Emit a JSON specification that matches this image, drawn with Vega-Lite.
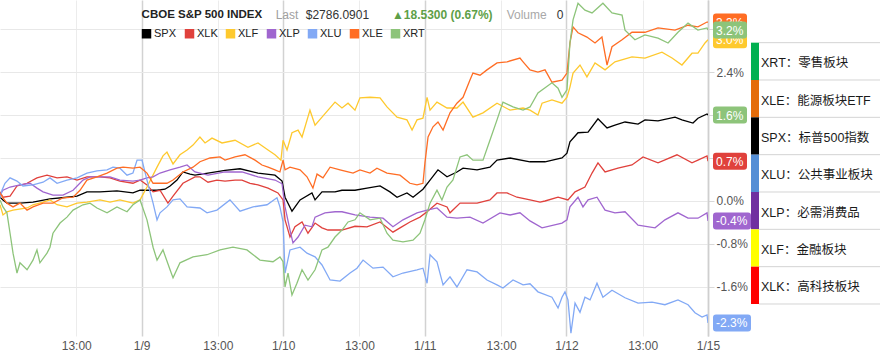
{
"$schema": "https://vega.github.io/schema/vega-lite/v6.json",
"padding": 0,
"background": "white",
"spacing": 0,
"config": {"view": {"stroke": null}, "font": "Liberation Sans", "axis": {"labelFont": "Liberation Sans"}},
"resolve": {"scale": {"fill": "independent"}},
"datasets": {
"series": [
{"s":"SPX","t":0,"v":0.07},{"s":"SPX","t":0.021,"v":0.02},{"s":"SPX","t":0.049,"v":-0.04},{"s":"SPX","t":0.141,"v":-0.04},{"s":"SPX","t":0.233,"v":-0.02},{"s":"SPX","t":0.353,"v":0.04},{"s":"SPX","t":0.473,"v":0.07},{"s":"SPX","t":0.544,"v":0.09},{"s":"SPX","t":0.614,"v":0.17},{"s":"SPX","t":0.706,"v":0.17},{"s":"SPX","t":0.826,"v":0.19},{"s":"SPX","t":0.939,"v":0.15},{"s":"SPX","t":0.989,"v":0.2},{"s":"SPX","t":1.109,"v":0.2},{"s":"SPX","t":1.165,"v":0.22},{"s":"SPX","t":1.201,"v":0.28},{"s":"SPX","t":1.25,"v":0.39},{"s":"SPX","t":1.292,"v":0.54},{"s":"SPX","t":1.342,"v":0.5},{"s":"SPX","t":1.377,"v":0.48},{"s":"SPX","t":1.469,"v":0.52},{"s":"SPX","t":1.589,"v":0.57},{"s":"SPX","t":1.695,"v":0.6},{"s":"SPX","t":1.822,"v":0.52},{"s":"SPX","t":1.942,"v":0.48},{"s":"SPX","t":1.992,"v":0.37},{"s":"SPX","t":2.013,"v":0.07},{"s":"SPX","t":2.062,"v":-0.19},{"s":"SPX","t":2.119,"v":0.02},{"s":"SPX","t":2.203,"v":0.15},{"s":"SPX","t":2.225,"v":0.02},{"s":"SPX","t":2.274,"v":0.17},{"s":"SPX","t":2.366,"v":0.17},{"s":"SPX","t":2.415,"v":0.2},{"s":"SPX","t":2.507,"v":0.2},{"s":"SPX","t":2.592,"v":0.24},{"s":"SPX","t":2.684,"v":0.28},{"s":"SPX","t":2.754,"v":0.17},{"s":"SPX","t":2.804,"v":0.07},{"s":"SPX","t":2.874,"v":0.15},{"s":"SPX","t":2.917,"v":0.07},{"s":"SPX","t":2.987,"v":0.22},{"s":"SPX","t":3.037,"v":0.39},{"s":"SPX","t":3.093,"v":0.58},{"s":"SPX","t":3.157,"v":0.45},{"s":"SPX","t":3.227,"v":0.54},{"s":"SPX","t":3.27,"v":0.61},{"s":"SPX","t":3.369,"v":0.58},{"s":"SPX","t":3.46,"v":0.63},{"s":"SPX","t":3.51,"v":0.76},{"s":"SPX","t":3.602,"v":0.8},{"s":"SPX","t":3.743,"v":0.73},{"s":"SPX","t":3.849,"v":0.73},{"s":"SPX","t":3.969,"v":0.8},{"s":"SPX","t":4.004,"v":0.89},{"s":"SPX","t":4.025,"v":1.1},{"s":"SPX","t":4.082,"v":1.27},{"s":"SPX","t":4.153,"v":1.28},{"s":"SPX","t":4.223,"v":1.53},{"s":"SPX","t":4.287,"v":1.36},{"s":"SPX","t":4.343,"v":1.41},{"s":"SPX","t":4.414,"v":1.47},{"s":"SPX","t":4.506,"v":1.43},{"s":"SPX","t":4.555,"v":1.51},{"s":"SPX","t":4.647,"v":1.49},{"s":"SPX","t":4.767,"v":1.56},{"s":"SPX","t":4.816,"v":1.51},{"s":"SPX","t":4.894,"v":1.45},{"s":"SPX","t":4.929,"v":1.54},{"s":"SPX","t":4.993,"v":1.62},{"s":"SPX","t":5,"v":1.6},
{"s":"XLK","t":0,"v":0.17},{"s":"XLK","t":0.021,"v":0.07},{"s":"XLK","t":0.071,"v":0.09},{"s":"XLK","t":0.12,"v":0.28},{"s":"XLK","t":0.191,"v":0.33},{"s":"XLK","t":0.261,"v":0.43},{"s":"XLK","t":0.332,"v":0.48},{"s":"XLK","t":0.403,"v":0.43},{"s":"XLK","t":0.473,"v":0.45},{"s":"XLK","t":0.544,"v":0.39},{"s":"XLK","t":0.614,"v":0.45},{"s":"XLK","t":0.706,"v":0.45},{"s":"XLK","t":0.777,"v":0.43},{"s":"XLK","t":0.847,"v":0.37},{"s":"XLK","t":0.939,"v":0.33},{"s":"XLK","t":0.989,"v":0.39},{"s":"XLK","t":1.038,"v":0.3},{"s":"XLK","t":1.081,"v":0.17},{"s":"XLK","t":1.13,"v":0.2},{"s":"XLK","t":1.186,"v":-0.04},{"s":"XLK","t":1.222,"v":0.09},{"s":"XLK","t":1.292,"v":0.33},{"s":"XLK","t":1.377,"v":0.45},{"s":"XLK","t":1.412,"v":0.45},{"s":"XLK","t":1.469,"v":0.35},{"s":"XLK","t":1.532,"v":0.39},{"s":"XLK","t":1.589,"v":0.37},{"s":"XLK","t":1.66,"v":0.39},{"s":"XLK","t":1.709,"v":0.39},{"s":"XLK","t":1.766,"v":0.33},{"s":"XLK","t":1.822,"v":0.3},{"s":"XLK","t":1.893,"v":0.24},{"s":"XLK","t":1.963,"v":0.15},{"s":"XLK","t":1.999,"v":0.02},{"s":"XLK","t":2.013,"v":-0.35},{"s":"XLK","t":2.048,"v":-0.67},{"s":"XLK","t":2.083,"v":-0.48},{"s":"XLK","t":2.133,"v":-0.39},{"s":"XLK","t":2.175,"v":-0.6},{"s":"XLK","t":2.225,"v":-0.41},{"s":"XLK","t":2.274,"v":-0.5},{"s":"XLK","t":2.316,"v":-0.54},{"s":"XLK","t":2.415,"v":-0.54},{"s":"XLK","t":2.507,"v":-0.47},{"s":"XLK","t":2.592,"v":-0.48},{"s":"XLK","t":2.684,"v":-0.39},{"s":"XLK","t":2.775,"v":-0.58},{"s":"XLK","t":2.825,"v":-0.5},{"s":"XLK","t":2.895,"v":-0.39},{"s":"XLK","t":2.966,"v":-0.3},{"s":"XLK","t":3.016,"v":-0.2},{"s":"XLK","t":3.086,"v":-0.04},{"s":"XLK","t":3.157,"v":-0.11},{"s":"XLK","t":3.178,"v":-0.22},{"s":"XLK","t":3.249,"v":-0.04},{"s":"XLK","t":3.369,"v":-0.04},{"s":"XLK","t":3.46,"v":0.02},{"s":"XLK","t":3.51,"v":0.15},{"s":"XLK","t":3.581,"v":0.15},{"s":"XLK","t":3.651,"v":0.07},{"s":"XLK","t":3.743,"v":0.02},{"s":"XLK","t":3.814,"v":-0.02},{"s":"XLK","t":3.849,"v":0},{"s":"XLK","t":3.941,"v":0.07},{"s":"XLK","t":4.011,"v":0.02},{"s":"XLK","t":4.061,"v":0.17},{"s":"XLK","t":4.131,"v":0.26},{"s":"XLK","t":4.181,"v":0.52},{"s":"XLK","t":4.223,"v":0.71},{"s":"XLK","t":4.273,"v":0.54},{"s":"XLK","t":4.364,"v":0.61},{"s":"XLK","t":4.463,"v":0.67},{"s":"XLK","t":4.541,"v":0.82},{"s":"XLK","t":4.647,"v":0.71},{"s":"XLK","t":4.781,"v":0.86},{"s":"XLK","t":4.887,"v":0.71},{"s":"XLK","t":4.929,"v":0.76},{"s":"XLK","t":4.993,"v":0.84},{"s":"XLK","t":5,"v":0.74},
{"s":"XLF","t":0,"v":-0.07},{"s":"XLF","t":0.021,"v":-0.26},{"s":"XLF","t":0.049,"v":-0.2},{"s":"XLF","t":0.092,"v":-0.17},{"s":"XLF","t":0.191,"v":-0.13},{"s":"XLF","t":0.233,"v":-0.07},{"s":"XLF","t":0.304,"v":-0.02},{"s":"XLF","t":0.353,"v":0.02},{"s":"XLF","t":0.403,"v":-0.07},{"s":"XLF","t":0.473,"v":-0.11},{"s":"XLF","t":0.544,"v":-0.04},{"s":"XLF","t":0.614,"v":-0.02},{"s":"XLF","t":0.706,"v":0.02},{"s":"XLF","t":0.777,"v":-0.02},{"s":"XLF","t":0.847,"v":0.02},{"s":"XLF","t":0.939,"v":-0.04},{"s":"XLF","t":0.989,"v":0.02},{"s":"XLF","t":1.038,"v":0.26},{"s":"XLF","t":1.109,"v":0.63},{"s":"XLF","t":1.151,"v":0.84},{"s":"XLF","t":1.179,"v":0.91},{"s":"XLF","t":1.222,"v":0.69},{"s":"XLF","t":1.271,"v":0.86},{"s":"XLF","t":1.321,"v":0.95},{"s":"XLF","t":1.363,"v":1.04},{"s":"XLF","t":1.412,"v":1.19},{"s":"XLF","t":1.448,"v":1.08},{"s":"XLF","t":1.497,"v":1.17},{"s":"XLF","t":1.568,"v":1.08},{"s":"XLF","t":1.66,"v":1.13},{"s":"XLF","t":1.751,"v":1.0},{"s":"XLF","t":1.822,"v":1.08},{"s":"XLF","t":1.893,"v":0.95},{"s":"XLF","t":1.942,"v":0.86},{"s":"XLF","t":1.984,"v":0.76},{"s":"XLF","t":1.999,"v":1.13},{"s":"XLF","t":2.027,"v":0.95},{"s":"XLF","t":2.062,"v":1.27},{"s":"XLF","t":2.105,"v":1.32},{"s":"XLF","t":2.133,"v":1.19},{"s":"XLF","t":2.189,"v":1.69},{"s":"XLF","t":2.225,"v":1.41},{"s":"XLF","t":2.274,"v":1.56},{"s":"XLF","t":2.366,"v":1.84},{"s":"XLF","t":2.415,"v":1.73},{"s":"XLF","t":2.458,"v":1.82},{"s":"XLF","t":2.507,"v":1.69},{"s":"XLF","t":2.542,"v":1.92},{"s":"XLF","t":2.613,"v":1.93},{"s":"XLF","t":2.684,"v":1.92},{"s":"XLF","t":2.733,"v":1.75},{"s":"XLF","t":2.804,"v":1.56},{"s":"XLF","t":2.874,"v":1.51},{"s":"XLF","t":2.91,"v":1.32},{"s":"XLF","t":2.945,"v":1.51},{"s":"XLF","t":2.987,"v":1.54},{"s":"XLF","t":3.016,"v":1.93},{"s":"XLF","t":3.037,"v":1.69},{"s":"XLF","t":3.086,"v":1.84},{"s":"XLF","t":3.157,"v":1.73},{"s":"XLF","t":3.227,"v":1.73},{"s":"XLF","t":3.27,"v":1.84},{"s":"XLF","t":3.34,"v":1.56},{"s":"XLF","t":3.411,"v":1.64},{"s":"XLF","t":3.51,"v":1.82},{"s":"XLF","t":3.602,"v":1.69},{"s":"XLF","t":3.694,"v":1.73},{"s":"XLF","t":3.743,"v":1.69},{"s":"XLF","t":3.799,"v":1.6},{"s":"XLF","t":3.828,"v":1.82},{"s":"XLF","t":3.898,"v":1.88},{"s":"XLF","t":3.969,"v":1.82},{"s":"XLF","t":4.004,"v":1.93},{"s":"XLF","t":4.025,"v":2.12},{"s":"XLF","t":4.047,"v":2.38},{"s":"XLF","t":4.096,"v":2.53},{"s":"XLF","t":4.145,"v":2.31},{"s":"XLF","t":4.202,"v":2.57},{"s":"XLF","t":4.273,"v":2.44},{"s":"XLF","t":4.343,"v":2.59},{"s":"XLF","t":4.463,"v":2.68},{"s":"XLF","t":4.555,"v":2.66},{"s":"XLF","t":4.675,"v":2.77},{"s":"XLF","t":4.746,"v":2.66},{"s":"XLF","t":4.816,"v":2.53},{"s":"XLF","t":4.887,"v":2.75},{"s":"XLF","t":4.929,"v":2.75},{"s":"XLF","t":4.979,"v":2.94},{"s":"XLF","t":5,"v":3.0},
{"s":"XLP","t":0,"v":0.11},{"s":"XLP","t":0.021,"v":0.2},{"s":"XLP","t":0.071,"v":0.26},{"s":"XLP","t":0.141,"v":0.3},{"s":"XLP","t":0.212,"v":0.33},{"s":"XLP","t":0.261,"v":0.24},{"s":"XLP","t":0.304,"v":0.17},{"s":"XLP","t":0.374,"v":0.11},{"s":"XLP","t":0.445,"v":0.11},{"s":"XLP","t":0.516,"v":0.2},{"s":"XLP","t":0.586,"v":0.39},{"s":"XLP","t":0.636,"v":0.45},{"s":"XLP","t":0.706,"v":0.45},{"s":"XLP","t":0.777,"v":0.45},{"s":"XLP","t":0.847,"v":0.39},{"s":"XLP","t":0.939,"v":0.37},{"s":"XLP","t":0.989,"v":0.39},{"s":"XLP","t":1.038,"v":0.43},{"s":"XLP","t":1.081,"v":0.45},{"s":"XLP","t":1.13,"v":0.52},{"s":"XLP","t":1.201,"v":0.58},{"s":"XLP","t":1.271,"v":0.63},{"s":"XLP","t":1.321,"v":0.67},{"s":"XLP","t":1.377,"v":0.54},{"s":"XLP","t":1.469,"v":0.48},{"s":"XLP","t":1.589,"v":0.54},{"s":"XLP","t":1.709,"v":0.54},{"s":"XLP","t":1.822,"v":0.45},{"s":"XLP","t":1.942,"v":0.39},{"s":"XLP","t":1.992,"v":0.32},{"s":"XLP","t":2.013,"v":-0.11},{"s":"XLP","t":2.048,"v":-0.54},{"s":"XLP","t":2.069,"v":-0.78},{"s":"XLP","t":2.105,"v":-0.67},{"s":"XLP","t":2.154,"v":-0.45},{"s":"XLP","t":2.203,"v":-0.48},{"s":"XLP","t":2.225,"v":-0.3},{"s":"XLP","t":2.295,"v":-0.22},{"s":"XLP","t":2.366,"v":-0.2},{"s":"XLP","t":2.415,"v":-0.2},{"s":"XLP","t":2.507,"v":-0.26},{"s":"XLP","t":2.613,"v":-0.3},{"s":"XLP","t":2.705,"v":-0.32},{"s":"XLP","t":2.775,"v":-0.48},{"s":"XLP","t":2.846,"v":-0.35},{"s":"XLP","t":2.945,"v":-0.22},{"s":"XLP","t":3.016,"v":-0.17},{"s":"XLP","t":3.086,"v":-0.13},{"s":"XLP","t":3.157,"v":-0.3},{"s":"XLP","t":3.227,"v":-0.32},{"s":"XLP","t":3.319,"v":-0.3},{"s":"XLP","t":3.411,"v":-0.41},{"s":"XLP","t":3.531,"v":-0.22},{"s":"XLP","t":3.602,"v":-0.26},{"s":"XLP","t":3.672,"v":-0.22},{"s":"XLP","t":3.743,"v":-0.37},{"s":"XLP","t":3.828,"v":-0.5},{"s":"XLP","t":3.969,"v":-0.41},{"s":"XLP","t":4.004,"v":-0.35},{"s":"XLP","t":4.025,"v":-0.11},{"s":"XLP","t":4.082,"v":0.07},{"s":"XLP","t":4.117,"v":-0.11},{"s":"XLP","t":4.153,"v":0.02},{"s":"XLP","t":4.216,"v":0.07},{"s":"XLP","t":4.273,"v":-0.17},{"s":"XLP","t":4.343,"v":-0.22},{"s":"XLP","t":4.414,"v":-0.2},{"s":"XLP","t":4.506,"v":-0.45},{"s":"XLP","t":4.626,"v":-0.5},{"s":"XLP","t":4.696,"v":-0.35},{"s":"XLP","t":4.788,"v":-0.22},{"s":"XLP","t":4.859,"v":-0.32},{"s":"XLP","t":4.929,"v":-0.32},{"s":"XLP","t":4.993,"v":-0.22},{"s":"XLP","t":5,"v":-0.37},
{"s":"XLU","t":0,"v":0.06},{"s":"XLU","t":0.014,"v":0.2},{"s":"XLU","t":0.035,"v":0.33},{"s":"XLU","t":0.071,"v":0.43},{"s":"XLU","t":0.12,"v":0.37},{"s":"XLU","t":0.162,"v":0.28},{"s":"XLU","t":0.233,"v":0.3},{"s":"XLU","t":0.304,"v":0.35},{"s":"XLU","t":0.353,"v":0.43},{"s":"XLU","t":0.403,"v":0.33},{"s":"XLU","t":0.473,"v":0.39},{"s":"XLU","t":0.544,"v":0.43},{"s":"XLU","t":0.614,"v":0.52},{"s":"XLU","t":0.685,"v":0.56},{"s":"XLU","t":0.756,"v":0.58},{"s":"XLU","t":0.798,"v":0.63},{"s":"XLU","t":0.847,"v":0.61},{"s":"XLU","t":0.897,"v":0.48},{"s":"XLU","t":0.939,"v":0.52},{"s":"XLU","t":0.968,"v":0.76},{"s":"XLU","t":1.003,"v":0.76},{"s":"XLU","t":1.038,"v":0.39},{"s":"XLU","t":1.081,"v":-0.04},{"s":"XLU","t":1.109,"v":-0.35},{"s":"XLU","t":1.13,"v":-0.22},{"s":"XLU","t":1.179,"v":-0.11},{"s":"XLU","t":1.222,"v":0.02},{"s":"XLU","t":1.271,"v":0.04},{"s":"XLU","t":1.321,"v":-0.11},{"s":"XLU","t":1.412,"v":-0.13},{"s":"XLU","t":1.462,"v":-0.22},{"s":"XLU","t":1.532,"v":-0.17},{"s":"XLU","t":1.624,"v":0.02},{"s":"XLU","t":1.695,"v":-0.19},{"s":"XLU","t":1.787,"v":-0.11},{"s":"XLU","t":1.886,"v":-0.07},{"s":"XLU","t":1.956,"v":0.06},{"s":"XLU","t":1.977,"v":-0.11},{"s":"XLU","t":1.999,"v":-0.39},{"s":"XLU","t":2.013,"v":-1.34},{"s":"XLU","t":2.048,"v":-0.91},{"s":"XLU","t":2.119,"v":-0.86},{"s":"XLU","t":2.168,"v":-0.97},{"s":"XLU","t":2.225,"v":-1.04},{"s":"XLU","t":2.274,"v":-1.19},{"s":"XLU","t":2.331,"v":-1.47},{"s":"XLU","t":2.401,"v":-1.49},{"s":"XLU","t":2.472,"v":-1.34},{"s":"XLU","t":2.521,"v":-1.25},{"s":"XLU","t":2.564,"v":-1.1},{"s":"XLU","t":2.634,"v":-1.25},{"s":"XLU","t":2.705,"v":-1.23},{"s":"XLU","t":2.775,"v":-1.41},{"s":"XLU","t":2.846,"v":-1.34},{"s":"XLU","t":2.945,"v":-1.28},{"s":"XLU","t":2.987,"v":-1.25},{"s":"XLU","t":3.016,"v":-1.53},{"s":"XLU","t":3.037,"v":-1.0},{"s":"XLU","t":3.086,"v":-1.13},{"s":"XLU","t":3.129,"v":-1.56},{"s":"XLU","t":3.178,"v":-1.41},{"s":"XLU","t":3.227,"v":-1.6},{"s":"XLU","t":3.298,"v":-1.28},{"s":"XLU","t":3.369,"v":-1.32},{"s":"XLU","t":3.439,"v":-1.47},{"s":"XLU","t":3.51,"v":-1.56},{"s":"XLU","t":3.552,"v":-1.62},{"s":"XLU","t":3.623,"v":-1.47},{"s":"XLU","t":3.694,"v":-1.56},{"s":"XLU","t":3.743,"v":-1.54},{"s":"XLU","t":3.799,"v":-1.69},{"s":"XLU","t":3.898,"v":-1.79},{"s":"XLU","t":3.941,"v":-1.99},{"s":"XLU","t":3.969,"v":-1.79},{"s":"XLU","t":3.99,"v":-1.69},{"s":"XLU","t":4.011,"v":-1.84},{"s":"XLU","t":4.032,"v":-2.46},{"s":"XLU","t":4.061,"v":-1.9},{"s":"XLU","t":4.096,"v":-2.07},{"s":"XLU","t":4.131,"v":-1.79},{"s":"XLU","t":4.167,"v":-1.84},{"s":"XLU","t":4.216,"v":-1.53},{"s":"XLU","t":4.258,"v":-1.79},{"s":"XLU","t":4.322,"v":-1.66},{"s":"XLU","t":4.414,"v":-1.8},{"s":"XLU","t":4.506,"v":-1.9},{"s":"XLU","t":4.605,"v":-1.88},{"s":"XLU","t":4.696,"v":-1.93},{"s":"XLU","t":4.788,"v":-1.84},{"s":"XLU","t":4.859,"v":-1.93},{"s":"XLU","t":4.908,"v":-2.08},{"s":"XLU","t":4.958,"v":-2.16},{"s":"XLU","t":4.993,"v":-2.12},{"s":"XLU","t":5,"v":-2.27},
{"s":"XLE","t":0,"v":0.15},{"s":"XLE","t":0.021,"v":0.06},{"s":"XLE","t":0.049,"v":-0.04},{"s":"XLE","t":0.092,"v":-0.11},{"s":"XLE","t":0.141,"v":-0.04},{"s":"XLE","t":0.191,"v":-0.17},{"s":"XLE","t":0.233,"v":-0.11},{"s":"XLE","t":0.304,"v":-0.04},{"s":"XLE","t":0.374,"v":-0.04},{"s":"XLE","t":0.445,"v":0.06},{"s":"XLE","t":0.516,"v":0.07},{"s":"XLE","t":0.565,"v":0.2},{"s":"XLE","t":0.614,"v":0.39},{"s":"XLE","t":0.685,"v":0.45},{"s":"XLE","t":0.756,"v":0.52},{"s":"XLE","t":0.826,"v":0.61},{"s":"XLE","t":0.869,"v":0.63},{"s":"XLE","t":0.939,"v":0.61},{"s":"XLE","t":0.989,"v":0.63},{"s":"XLE","t":1.038,"v":0.52},{"s":"XLE","t":1.081,"v":0.33},{"s":"XLE","t":1.13,"v":0.33},{"s":"XLE","t":1.179,"v":0.33},{"s":"XLE","t":1.222,"v":0.39},{"s":"XLE","t":1.292,"v":0.54},{"s":"XLE","t":1.363,"v":0.63},{"s":"XLE","t":1.412,"v":0.73},{"s":"XLE","t":1.483,"v":0.8},{"s":"XLE","t":1.554,"v":0.82},{"s":"XLE","t":1.589,"v":0.76},{"s":"XLE","t":1.66,"v":0.82},{"s":"XLE","t":1.73,"v":0.86},{"s":"XLE","t":1.801,"v":0.76},{"s":"XLE","t":1.85,"v":0.67},{"s":"XLE","t":1.893,"v":0.63},{"s":"XLE","t":1.942,"v":0.58},{"s":"XLE","t":1.977,"v":0.54},{"s":"XLE","t":1.999,"v":0.76},{"s":"XLE","t":2.013,"v":0.58},{"s":"XLE","t":2.048,"v":0.63},{"s":"XLE","t":2.119,"v":0.58},{"s":"XLE","t":2.168,"v":0.45},{"s":"XLE","t":2.21,"v":0.24},{"s":"XLE","t":2.239,"v":0.5},{"s":"XLE","t":2.281,"v":0.43},{"s":"XLE","t":2.331,"v":0.63},{"s":"XLE","t":2.401,"v":0.58},{"s":"XLE","t":2.493,"v":0.52},{"s":"XLE","t":2.542,"v":0.58},{"s":"XLE","t":2.613,"v":0.52},{"s":"XLE","t":2.662,"v":0.61},{"s":"XLE","t":2.733,"v":0.52},{"s":"XLE","t":2.825,"v":0.48},{"s":"XLE","t":2.895,"v":0.33},{"s":"XLE","t":2.945,"v":0.3},{"s":"XLE","t":2.987,"v":0.33},{"s":"XLE","t":3.001,"v":0.71},{"s":"XLE","t":3.023,"v":1.19},{"s":"XLE","t":3.058,"v":1.38},{"s":"XLE","t":3.093,"v":1.47},{"s":"XLE","t":3.129,"v":1.32},{"s":"XLE","t":3.178,"v":1.64},{"s":"XLE","t":3.227,"v":1.82},{"s":"XLE","t":3.27,"v":1.93},{"s":"XLE","t":3.319,"v":2.25},{"s":"XLE","t":3.34,"v":2.38},{"s":"XLE","t":3.39,"v":2.34},{"s":"XLE","t":3.439,"v":2.44},{"s":"XLE","t":3.51,"v":2.57},{"s":"XLE","t":3.581,"v":2.59},{"s":"XLE","t":3.672,"v":2.66},{"s":"XLE","t":3.694,"v":2.59},{"s":"XLE","t":3.743,"v":2.44},{"s":"XLE","t":3.799,"v":2.4},{"s":"XLE","t":3.849,"v":2.44},{"s":"XLE","t":3.898,"v":2.21},{"s":"XLE","t":3.969,"v":2.25},{"s":"XLE","t":4.004,"v":2.38},{"s":"XLE","t":4.025,"v":2.94},{"s":"XLE","t":4.047,"v":3.24},{"s":"XLE","t":4.082,"v":3.13},{"s":"XLE","t":4.145,"v":3.05},{"s":"XLE","t":4.202,"v":2.94},{"s":"XLE","t":4.251,"v":3.05},{"s":"XLE","t":4.287,"v":2.53},{"s":"XLE","t":4.322,"v":2.87},{"s":"XLE","t":4.393,"v":3.0},{"s":"XLE","t":4.463,"v":3.14},{"s":"XLE","t":4.555,"v":3.14},{"s":"XLE","t":4.647,"v":3.22},{"s":"XLE","t":4.767,"v":3.18},{"s":"XLE","t":4.859,"v":3.27},{"s":"XLE","t":4.929,"v":3.24},{"s":"XLE","t":4.993,"v":3.33},{"s":"XLE","t":5,"v":3.33},
{"s":"XRT","t":0,"v":0.02},{"s":"XRT","t":0.021,"v":-0.11},{"s":"XRT","t":0.049,"v":-0.22},{"s":"XRT","t":0.071,"v":-0.6},{"s":"XRT","t":0.092,"v":-0.97},{"s":"XRT","t":0.12,"v":-1.34},{"s":"XRT","t":0.141,"v":-1.15},{"s":"XRT","t":0.191,"v":-1.28},{"s":"XRT","t":0.233,"v":-1.1},{"s":"XRT","t":0.261,"v":-0.91},{"s":"XRT","t":0.282,"v":-1.15},{"s":"XRT","t":0.332,"v":-0.97},{"s":"XRT","t":0.353,"v":-0.86},{"s":"XRT","t":0.374,"v":-0.6},{"s":"XRT","t":0.424,"v":-0.41},{"s":"XRT","t":0.473,"v":-0.3},{"s":"XRT","t":0.516,"v":-0.17},{"s":"XRT","t":0.586,"v":-0.07},{"s":"XRT","t":0.636,"v":-0.04},{"s":"XRT","t":0.685,"v":-0.13},{"s":"XRT","t":0.756,"v":-0.22},{"s":"XRT","t":0.826,"v":-0.11},{"s":"XRT","t":0.897,"v":-0.2},{"s":"XRT","t":0.939,"v":-0.07},{"s":"XRT","t":0.989,"v":0.02},{"s":"XRT","t":1.038,"v":-0.35},{"s":"XRT","t":1.081,"v":-0.86},{"s":"XRT","t":1.109,"v":-1.1},{"s":"XRT","t":1.151,"v":-0.91},{"s":"XRT","t":1.201,"v":-1.28},{"s":"XRT","t":1.222,"v":-1.43},{"s":"XRT","t":1.271,"v":-1.15},{"s":"XRT","t":1.363,"v":-1.04},{"s":"XRT","t":1.462,"v":-1.0},{"s":"XRT","t":1.554,"v":-0.91},{"s":"XRT","t":1.645,"v":-0.86},{"s":"XRT","t":1.744,"v":-0.91},{"s":"XRT","t":1.836,"v":-1.1},{"s":"XRT","t":1.928,"v":-1.13},{"s":"XRT","t":1.977,"v":-1.04},{"s":"XRT","t":1.999,"v":-1.13},{"s":"XRT","t":2.013,"v":-1.6},{"s":"XRT","t":2.034,"v":-1.34},{"s":"XRT","t":2.062,"v":-1.75},{"s":"XRT","t":2.097,"v":-1.53},{"s":"XRT","t":2.133,"v":-1.28},{"s":"XRT","t":2.175,"v":-1.47},{"s":"XRT","t":2.225,"v":-1.28},{"s":"XRT","t":2.274,"v":-0.91},{"s":"XRT","t":2.316,"v":-0.86},{"s":"XRT","t":2.366,"v":-0.67},{"s":"XRT","t":2.415,"v":-0.54},{"s":"XRT","t":2.458,"v":-0.39},{"s":"XRT","t":2.507,"v":-0.35},{"s":"XRT","t":2.542,"v":-0.22},{"s":"XRT","t":2.613,"v":-0.35},{"s":"XRT","t":2.684,"v":-0.32},{"s":"XRT","t":2.733,"v":-0.6},{"s":"XRT","t":2.775,"v":-0.73},{"s":"XRT","t":2.846,"v":-0.76},{"s":"XRT","t":2.917,"v":-0.73},{"s":"XRT","t":2.966,"v":-0.6},{"s":"XRT","t":3.001,"v":-0.35},{"s":"XRT","t":3.037,"v":-0.04},{"s":"XRT","t":3.086,"v":0.2},{"s":"XRT","t":3.121,"v":0.02},{"s":"XRT","t":3.157,"v":0.26},{"s":"XRT","t":3.199,"v":0.39},{"s":"XRT","t":3.249,"v":0.82},{"s":"XRT","t":3.298,"v":0.86},{"s":"XRT","t":3.34,"v":0.76},{"s":"XRT","t":3.411,"v":0.76},{"s":"XRT","t":3.46,"v":1.13},{"s":"XRT","t":3.51,"v":1.51},{"s":"XRT","t":3.552,"v":1.84},{"s":"XRT","t":3.623,"v":1.75},{"s":"XRT","t":3.694,"v":1.69},{"s":"XRT","t":3.743,"v":1.75},{"s":"XRT","t":3.799,"v":2.01},{"s":"XRT","t":3.898,"v":2.2},{"s":"XRT","t":3.941,"v":2.1},{"s":"XRT","t":3.969,"v":1.93},{"s":"XRT","t":4.004,"v":2.07},{"s":"XRT","t":4.025,"v":2.94},{"s":"XRT","t":4.047,"v":3.37},{"s":"XRT","t":4.082,"v":3.68},{"s":"XRT","t":4.131,"v":3.55},{"s":"XRT","t":4.181,"v":3.5},{"s":"XRT","t":4.258,"v":3.68},{"s":"XRT","t":4.322,"v":3.5},{"s":"XRT","t":4.393,"v":3.46},{"s":"XRT","t":4.414,"v":3.18},{"s":"XRT","t":4.484,"v":3.0},{"s":"XRT","t":4.555,"v":3.09},{"s":"XRT","t":4.647,"v":3.03},{"s":"XRT","t":4.718,"v":2.94},{"s":"XRT","t":4.788,"v":3.14},{"s":"XRT","t":4.859,"v":3.31},{"s":"XRT","t":4.929,"v":3.18},{"s":"XRT","t":4.993,"v":3.22},{"s":"XRT","t":5,"v":3.18}
]
},
"hconcat": [
{
"width": 708,
"height": 336,
"data": {"name": "series"},
"layer": [
{
"mark": {"type": "line", "strokeWidth": 1.3, "clip": true},
"encoding": {
"x": {"field": "t", "type": "quantitative", "scale": {"domain": [0, 5], "nice": false, "zero": false},
 "axis": {"title": null, "values": [0.53846, 1, 1.53846, 2, 2.53846, 3, 3.53846, 4, 4.53846, 5],
  "labelExpr": "datum.value % 1 == 0 ? ['1/8','1/9','1/10','1/11','1/12','1/15'][datum.value] : '13:00'",
  "grid": true,
  "gridColor": {"condition": {"test": "datum.value % 1 == 0", "value": "#d2d2d2"}, "value": "#ececec"},
  "gridWidth": {"condition": {"test": "datum.value % 1 == 0", "value": 1.5}, "value": 1},
  "domain": false, "ticks": false, "tickSize": 0, "labelPadding": 4, "labelFontSize": 12, "labelColor": "#555555",
  "labelFlush": false, "labelOverlap": false}},
"y": {"field": "v", "type": "quantitative", "scale": {"domain": [-2.512, 3.74], "nice": false, "zero": false},
 "axis": {"orient": "right", "title": null, "values": [-1.6, -0.8, 0, 0.8, 1.6, 2.4, 3.2],
  "labelExpr": "indexof([0.8, 1.6, 3.2], datum.value) >= 0 ? '' : (datum.value < 0 ? '-' : '') + format(abs(datum.value), '.1f') + '%'",
  "grid": true, "gridColor": "#e8e8e8", "domainColor": "#cfcfcf", "domainWidth": 1.5,
  "tickColor": "#d8d8d8", "tickSize": 6, "labelPadding": 2, "labelFontSize": 12, "labelColor": "#555555"}},
"color": {"field": "s", "type": "nominal",
 "scale": {"domain": ["SPX", "XLK", "XLF", "XLP", "XLU", "XLE", "XRT"],
  "range": ["#000000", "#e0413c", "#fec92e", "#a066cf", "#82a9f5", "#ff6d24", "#8dc47a"]},
 "legend": {"orient": "none", "legendX": 141, "legendY": 28, "direction": "horizontal", "title": null,
  "symbolType": "square", "symbolSize": 90, "symbolStrokeWidth": 0, "labelFontSize": 11, "labelColor": "#222222",
  "labelOffset": 2, "columnPadding": 7, "padding": 0,
  "encode": {"symbols": {"update": {"fill": {"signal": "scale('color', datum.value)"}, "opacity": {"value": 1}}}}}}
}
},
{
"transform": [{"filter": "datum.t == 5 && indexof(['XLE','XLF'], datum.s) >= 0"}],
"mark": {"type": "point", "shape": "M0.4,-0.425L1.8,-0.425Q1.95,-0.425,1.95,-0.275L1.95,0.275Q1.95,0.425,1.8,0.425L0.4,0.425Q0.25,0.425,0.25,0.275L0.25,-0.275Q0.25,-0.425,0.4,-0.425Z", "size": 1600, "filled": true, "opacity": 1, "strokeWidth": 0},
"encoding": {"x": {"field": "t", "type": "quantitative"}, "y": {"field": "v", "type": "quantitative"},
 "fill": {"field": "s", "type": "nominal", "legend": null,
  "scale": {"domain": ["SPX", "XLK", "XLF", "XLP", "XLU", "XLE", "XRT"], "range": ["#8dc47a", "#e0413c", "#fec92e", "#a066cf", "#82a9f5", "#ff6d24", "#8dc47a"]}}}
},
{
"transform": [{"filter": "datum.t == 5 && indexof(['XLE','XLF'], datum.s) >= 0"}, {"calculate": "(datum.v < 0 ? '-' : '') + format(abs(datum.v), '.1f') + '%'", "as": "label"}],
"mark": {"type": "text", "align": "left", "baseline": "middle", "dx": 8, "dy": 0.5, "fontSize": 12, "fill": "white"},
"encoding": {"x": {"field": "t", "type": "quantitative"}, "y": {"field": "v", "type": "quantitative"}, "text": {"field": "label"}}
},
{
"transform": [{"filter": "datum.t == 5 && indexof(['XRT','SPX','XLK'], datum.s) >= 0"}],
"mark": {"type": "point", "shape": "M0.4,-0.425L1.8,-0.425Q1.95,-0.425,1.95,-0.275L1.95,0.275Q1.95,0.425,1.8,0.425L0.4,0.425Q0.25,0.425,0.25,0.275L0.25,-0.275Q0.25,-0.425,0.4,-0.425Z", "size": 1600, "filled": true, "opacity": 1, "strokeWidth": 0},
"encoding": {"x": {"field": "t", "type": "quantitative"}, "y": {"field": "v", "type": "quantitative"},
 "fill": {"field": "s", "type": "nominal", "legend": null}}
},
{
"transform": [{"filter": "datum.t == 5 && indexof(['XRT','SPX','XLK'], datum.s) >= 0"}, {"calculate": "(datum.v < 0 ? '-' : '') + format(abs(datum.v), '.1f') + '%'", "as": "label"}],
"mark": {"type": "text", "align": "left", "baseline": "middle", "dx": 8, "dy": 0.5, "fontSize": 12, "fill": "white"},
"encoding": {"x": {"field": "t", "type": "quantitative"}, "y": {"field": "v", "type": "quantitative"}, "text": {"field": "label"}}
},
{
"transform": [{"filter": "datum.t == 5 && indexof(['XLP','XLU'], datum.s) >= 0"}],
"mark": {"type": "point", "shape": "M0.4,-0.425L2.0,-0.425Q2.15,-0.425,2.15,-0.275L2.15,0.275Q2.15,0.425,2.0,0.425L0.4,0.425Q0.25,0.425,0.25,0.275L0.25,-0.275Q0.25,-0.425,0.4,-0.425Z", "size": 1600, "filled": true, "opacity": 1, "strokeWidth": 0},
"encoding": {"x": {"field": "t", "type": "quantitative"}, "y": {"field": "v", "type": "quantitative"},
 "fill": {"field": "s", "type": "nominal", "legend": null}}
},
{
"transform": [{"filter": "datum.t == 5 && indexof(['XLP','XLU'], datum.s) >= 0"}, {"calculate": "(datum.v < 0 ? '-' : '') + format(abs(datum.v), '.1f') + '%'", "as": "label"}],
"mark": {"type": "text", "align": "left", "baseline": "middle", "dx": 8, "dy": 0.5, "fontSize": 12, "fill": "white"},
"encoding": {"x": {"field": "t", "type": "quantitative"}, "y": {"field": "v", "type": "quantitative"}, "text": {"field": "label"}}
},
{
"data": {"values": [{"txt": "CBOE S&P 500 INDEX"}]},
"mark": {"type": "text", "align": "left", "baseline": "middle", "fontSize": 11.5, "fontWeight": "bold", "fill": "#222222"},
"encoding": {"x": {"datum": 1.0, "type": "quantitative"}, "y": {"datum": 3.47, "type": "quantitative"}, "text": {"field": "txt"}}
},
{
"data": {"values": [{"txt": "Last"}]},
"mark": {"type": "text", "align": "left", "baseline": "middle", "fontSize": 12, "fill": "#a0a0a0"},
"encoding": {"x": {"datum": 1.947, "type": "quantitative"}, "y": {"datum": 3.47, "type": "quantitative"}, "text": {"field": "txt"}}
},
{
"data": {"values": [{"txt": "$2786.0901"}]},
"mark": {"type": "text", "align": "left", "baseline": "middle", "fontSize": 12, "fill": "#333333"},
"encoding": {"x": {"datum": 2.159, "type": "quantitative"}, "y": {"datum": 3.47, "type": "quantitative"}, "text": {"field": "txt"}}
},
{
"data": {"values": [{"txt": "▲18.5300 (0.67%)"}]},
"mark": {"type": "text", "align": "left", "baseline": "middle", "fontSize": 12, "fontWeight": "bold", "fill": "#5e9f48"},
"encoding": {"x": {"datum": 2.768, "type": "quantitative"}, "y": {"datum": 3.47, "type": "quantitative"}, "text": {"field": "txt"}}
},
{
"data": {"values": [{"txt": "Volume"}]},
"mark": {"type": "text", "align": "left", "baseline": "middle", "fontSize": 12, "fill": "#a8a8a8"},
"encoding": {"x": {"datum": 3.578, "type": "quantitative"}, "y": {"datum": 3.47, "type": "quantitative"}, "text": {"field": "txt"}}
},
{
"data": {"values": [{"txt": "0"}]},
"mark": {"type": "text", "align": "left", "baseline": "middle", "fontSize": 12, "fill": "#333333"},
"encoding": {"x": {"datum": 3.931, "type": "quantitative"}, "y": {"datum": 3.47, "type": "quantitative"}, "text": {"field": "txt"}}
}
]
},
{
"width": 129,
"height": 336,
"data": {"values": [
{"code": "XRT", "name": "XRT：零售板块"},
{"code": "XLE", "name": "XLE：能源板块ETF"},
{"code": "SPX", "name": "SPX：标普500指数"},
{"code": "XLU", "name": "XLU：公共事业板块"},
{"code": "XLP", "name": "XLP：必需消费品"},
{"code": "XLF", "name": "XLF：金融板块"},
{"code": "XLK", "name": "XLK：高科技板块"}
]},
"encoding": {
"y": {"field": "code", "type": "nominal", "axis": null, "sort": null,
 "scale": {"type": "band", "domain": ["XRT", "XLE", "SPX", "XLU", "XLP", "XLF", "XLK"], "paddingInner": 0, "paddingOuter": 1.1667, "align": 0.5714}}
},
"layer": [
{
"mark": {"type": "rect"},
"encoding": {
"x": {"datum": 0, "type": "quantitative", "scale": {"domain": [0, 129], "nice": false, "zero": false}, "axis": null},
"x2": {"datum": 8},
"fill": {"field": "code", "type": "nominal", "legend": null,
 "scale": {"domain": ["XRT", "XLE", "SPX", "XLU", "XLP", "XLF", "XLK"], "range": ["#00b050", "#e46c0a", "#000000", "#558ed5", "#7030a0", "#ffff00", "#ff0000"]}}
}
},
{
"mark": {"type": "rule", "color": "#d4d4d4", "strokeWidth": 1},
"encoding": {
"x": {"datum": 8, "type": "quantitative"}, "x2": {"datum": 129},
"y": {"field": "code", "type": "nominal", "bandPosition": 0}
}
},
{
"transform": [{"filter": "datum.code == 'XLK'"}],
"mark": {"type": "rule", "color": "#d4d4d4", "strokeWidth": 1},
"encoding": {
"x": {"datum": 8, "type": "quantitative"}, "x2": {"datum": 129},
"y": {"field": "code", "type": "nominal", "bandPosition": 1}
}
},
{
"mark": {"type": "text", "align": "left", "baseline": "middle", "dy": 2, "fontSize": 12.5, "font": "Liberation Sans, Noto Sans CJK SC", "fill": "#1a1a1a"},
"encoding": {
"x": {"datum": 10, "type": "quantitative"},
"text": {"field": "name"}
}
}
]
}
]
}
